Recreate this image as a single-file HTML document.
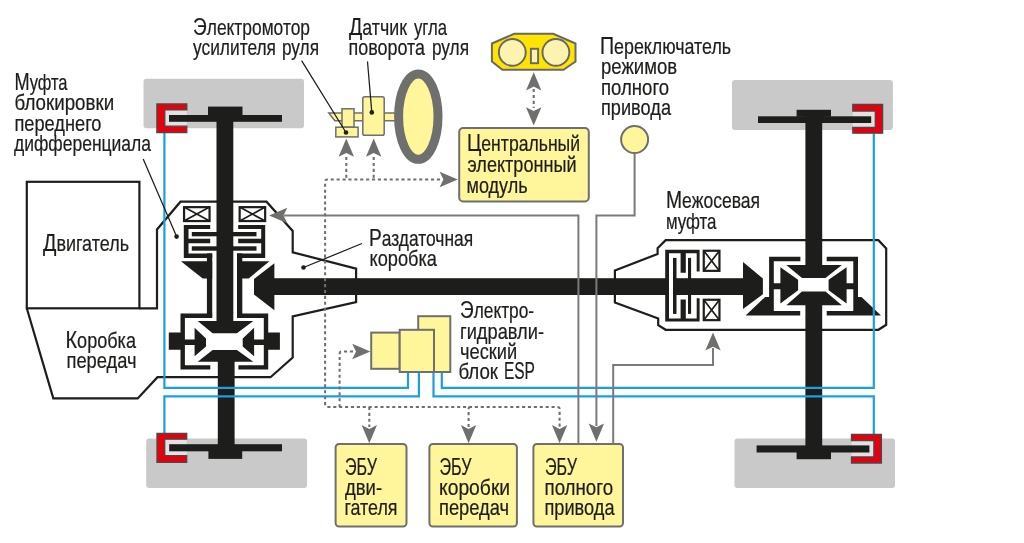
<!DOCTYPE html>
<html lang="ru">
<head>
<meta charset="utf-8">
<title>Схема полного привода</title>
<style>
html,body{margin:0;padding:0;background:#fff;}
body{width:1024px;height:543px;overflow:hidden;font-family:"Liberation Sans",sans-serif;}
svg{display:block;will-change:transform;}
text{font-family:"Liberation Sans",sans-serif;font-size:22px;fill:#1d1d1b;stroke:#1d1d1b;stroke-width:0.22;}
.k{fill:#1d1d1b;}
.w{fill:#fff;}
.ol{fill:none;stroke:#1d1d1b;stroke-width:2.2;stroke-linejoin:miter;}
.bl{fill:none;stroke:#1a9fe3;stroke-width:2.2;stroke-linejoin:miter;}
.gl{fill:none;stroke:#7a7a7a;stroke-width:2;stroke-linejoin:miter;}
.dl{fill:none;stroke:#6f6f6e;stroke-width:2.05;stroke-dasharray:3.1 2.8;stroke-linejoin:round;}
.ah{fill:#6f6f6e;}
.y{fill:#fff59a;stroke:#6f6f6e;stroke-width:2;}
.ll{fill:none;stroke:#1d1d1b;stroke-width:1.25;}
.ys{fill:#fff59a;stroke:#6f6f6e;stroke-width:1.5;}
.wh{fill:#c9c9c9;}
.rd{fill:#e3000f;stroke:#4c4847;stroke-width:1.3;stroke-linejoin:miter;}
.cb{fill:#fff;stroke:#1d1d1b;stroke-width:2.2;}
.cx{fill:none;stroke:#1d1d1b;stroke-width:1.7;}
</style>
</head>
<body>
<svg width="1024" height="543" viewBox="0 0 1024 543">
<rect x="0" y="0" width="1024" height="543" fill="#fff"/>

<!-- WHEELS -->
<g id="wheels">
<rect class="wh" x="143.5" y="78.8" width="160.5" height="49.5" rx="3"/>
<rect class="wh" x="146.2" y="438.5" width="160.9" height="49.5" rx="3"/>
<rect class="wh" x="732" y="80.1" width="160.9" height="50" rx="3"/>
<rect class="wh" x="734.5" y="438.4" width="160.5" height="49.6" rx="3"/>
<rect fill="#e2e2e2" x="164.8" y="109.9" width="22" height="16.3"/>
<rect fill="#e2e2e2" x="164.7" y="439.2" width="22" height="16.4"/>
<rect fill="#e2e2e2" x="852.8" y="111.1" width="22.5" height="16.2"/>
<rect fill="#e2e2e2" x="851.5" y="440.7" width="22.4" height="16.2"/>
</g>


<!-- HOUSING OUTLINES -->
<g id="outlines">
<rect class="ol" x="26.8" y="181.8" width="112.6" height="126.5"/>
<path class="ol" d="M139.4 308.3 H157 V229.5 L180.5 201.7 H266.5 L292.7 231 V252.3 L356.1 268.6 V302.1 L292.7 316.5 V357.6 L270.5 377.2 H157.5 L137.7 398.4 H53.3 L26.8 308.3"/>
<path class="ol" d="M665.7 240.2 H878.4 L886.2 248.5 V324.8 L878.4 329.8 H665.7 L658.2 325.1 V318.5 L614.9 302.6 V270.4 L657.6 254 V248.2 Z"/>
</g>

<!-- placeholder sections -->
<g id="front">
<!-- front-left top wheel hub -->
<rect class="k" x="208" y="106.6" width="34.5" height="9"/>
<rect class="k" x="169" y="115" width="113" height="6.8"/>
<!-- bottom-left hub -->
<rect class="k" x="169.2" y="444.2" width="112.8" height="7.1"/>
<rect class="k" x="208.4" y="451" width="33.8" height="7.9"/>
<!-- main axle shaft upper / lower -->
<rect class="k" x="216.5" y="110" width="16.8" height="215"/>
<rect class="k" x="217.8" y="358" width="16.8" height="94"/>
<!-- coil boxes -->
<rect class="cb" x="184.05" y="207.15" width="25.5" height="13.9"/>
<path class="cx" d="M184 207.1 L209.6 221.1 M209.6 207.1 L184 221.1"/>
<rect class="cb" x="239.65" y="207.15" width="25.5" height="13.9"/>
<path class="cx" d="M239.6 207.1 L265.2 221.1 M265.2 207.1 L239.6 221.1"/>
<!-- clutch pack left -->
<path class="k" d="M183.8 225 H210.2 V229.1 H188.5 V238.8 H210.2 V243.2 H188.5 V253.4 H212.2 V258 H183.8 Z"/>
<rect class="k" x="191.8" y="232" width="26" height="4.3"/>
<rect class="k" x="191.8" y="246.3" width="26" height="4.4"/>
<!-- clutch pack right -->
<path class="k" d="M265.2 225 H238.2 V229.1 H261.2 V238.8 H238.2 V243.2 H261.2 V253.4 H237 V258 H265.2 Z"/>
<rect class="k" x="232" y="232" width="24.5" height="4.3"/>
<rect class="k" x="232" y="246.3" width="24.5" height="4.4"/>
<!-- sleeves -->
<rect class="k" x="206.9" y="253.4" width="5.3" height="64"/>
<rect class="k" x="237" y="253.4" width="5.3" height="64"/>
<!-- funnel -->
<path class="k" d="M180.9 261.3 H212.2 V278.5 H202.7 Z"/>
<path class="k" d="M237 261.3 H269.5 L248.7 278.5 H237 Z"/>
<!-- bevel gear on prop shaft + prop shaft -->
<path class="k" d="M274.4 263.3 L254 279 V294.6 L274.4 310.3 Z"/>
<rect class="k" x="274" y="278.2" width="395" height="16.8"/>
<!-- front diff housing -->
<path class="k" d="M180.5 313.6 H212.2 V318 H184.9 V365.2 H210.3 V369.6 H180.5 V349.8 H168.8 V332.4 H180.5 Z"/>
<path class="k" d="M268.2 313.6 H237 V318 H263.8 V365.2 H238.4 V369.6 H268.2 V349.8 H279.9 V332.4 H268.2 Z"/>
<!-- side gears -->
<path class="k" d="M184 339.6 H194.6 V327.8 L206 338.4 V346.6 L194.6 356.3 V344.9 H184 Z"/>
<path class="k" d="M265 339.6 H254.1 V327.8 L242.7 338.4 V346.6 L254.1 356.3 V344.9 H265 Z"/>
<!-- pinions -->
<path class="k" d="M197.7 321.1 H253.3 L236.9 333.2 H212.6 Z"/>
<path class="k" d="M212.6 350.1 H236.9 L253.3 361.8 H197.7 Z"/>
</g>
<g id="rear">
<!-- top-right hub -->
<rect class="k" x="796.6" y="109.8" width="34.4" height="7"/>
<rect class="k" x="758" y="116.3" width="113.2" height="6.7"/>
<!-- bottom-right hub -->
<rect class="k" x="756.6" y="445.4" width="112.8" height="7.1"/>
<rect class="k" x="796.6" y="452" width="34.4" height="7.2"/>
<!-- rear axle shaft -->
<rect class="k" x="805.4" y="112" width="16.8" height="158"/>
<rect class="k" x="805.4" y="300" width="16.8" height="153"/>
<!-- rear clutch outer -->
<path class="k" d="M665.2 249.7 H699.6 V271.5 H696.7 V253.2 H685.8 V272.7 H680.6 V253.2 H669 V318.4 H680.6 V299.5 H685.8 V318.4 H696.7 V298.2 H699.6 V321.6 H665.2 Z"/>
<!-- rear clutch inner plates + output shaft -->
<rect class="k" x="673" y="257.9" width="3.5" height="56"/>
<rect class="k" x="688" y="257.9" width="3.1" height="56"/>
<rect class="k" x="673" y="278.2" width="70.8" height="16.8"/>
<!-- coil boxes -->
<rect class="cb" x="703.75" y="250.75" width="15.7" height="20.1"/>
<path class="cx" d="M703.7 250.7 L719.5 270.9 M719.5 250.7 L703.7 270.9"/>
<rect class="cb" x="703.75" y="299.75" width="15.7" height="20.4"/>
<path class="cx" d="M703.7 299.7 L719.5 320.2 M719.5 299.7 L703.7 320.2"/>
<!-- pinion arrow -->
<path class="k" d="M743 262.1 L762.9 278.5 V294.3 L743 309.1 Z"/>
<!-- rear diff housing + ring gear -->
<path class="k" d="M769.1 256.8 H800.4 V261.3 H773.8 V311 H800.2 V315.4 H745.6 L765.2 296.9 H769.1 Z"/>
<path class="k" d="M858 256.8 H826.7 V261.3 H853.3 V311 H826.7 V315.4 H881 L861.5 296.9 H858 Z"/>
<!-- side gears -->
<path class="k" d="M773 283.2 H780.4 V267.3 L798.1 279.8 V290.3 L780.4 303.6 V289.2 H773 Z"/>
<path class="k" d="M854 283.2 H846.6 V267.3 L828.6 279.8 V290.3 L846.6 303.6 V289.2 H854 Z"/>
<!-- pinions -->
<path class="k" d="M786.3 264.9 H841.9 L825.5 277.9 H802 Z"/>
<path class="k" d="M802 291.5 H825.5 L841.9 305.2 H786.3 Z"/>
</g>
<!-- BLUE LINES -->
<g id="blue">
<path class="bl" d="M164.4 133 V387.9 H408 V372"/>
<path class="bl" d="M164.4 433 V396.3 H418.9 V372"/>
<path class="bl" d="M433.5 372 V396.3 H873.8 V434"/>
<path class="bl" d="M441.8 372 V387.9 H873.8 V133.6"/>
</g>
<g id="yellow">
<!-- steering column -->
<path class="ys" d="M328.8 113 H396 V120.8 H334.8 Z"/>
<rect class="ys" x="342" y="108.8" width="12" height="18.4"/>
<rect class="ys" x="335.8" y="127.2" width="22.3" height="9.7"/>
<rect class="ys" x="362.8" y="96.8" width="21.4" height="38.5" rx="1.8"/>
<ellipse cx="418.3" cy="116.6" rx="19.7" ry="42.7" fill="#fff59a" stroke="#6f6f6e" stroke-width="9"/>
<!-- top yellow controller -->
<path d="M491.9 43.5 L514.2 33.8 H553.3 L575.5 43.5 V61.5 L563.5 69.8 H502.4 L491.9 61.5 Z" fill="#ffe400" stroke="#686868" stroke-width="2"/>
<circle cx="512.3" cy="52.4" r="13.4" fill="#fdf3b0" stroke="#686868" stroke-width="1.95"/>
<circle cx="555.9" cy="52.4" r="13.4" fill="#fdf3b0" stroke="#686868" stroke-width="1.95"/>
<rect x="530.9" y="48.8" width="7.2" height="14.4" fill="#fdf3b0" stroke="#686868" stroke-width="1.95"/>
<!-- central module -->
<rect class="y" x="459.2" y="128.1" width="129.6" height="73.3" rx="4"/>
<!-- switch -->
<circle class="y" cx="634.6" cy="139.6" r="13.5"/>
<!-- ESP block -->
<rect class="y" x="418.2" y="316.2" width="32.1" height="55.8"/>
<rect class="y" x="371.2" y="332.6" width="28.5" height="36.2"/>
<rect class="y" x="399.7" y="329.8" width="34.3" height="42.2"/>
<!-- ECUs -->
<rect class="y" x="335.6" y="443.9" width="70.9" height="82.6" rx="3.5"/>
<rect class="y" x="429.4" y="443.9" width="87.5" height="82.6" rx="3.5"/>
<rect class="y" x="533.4" y="443.9" width="89.6" height="82.6" rx="3.5"/>
</g>
<g id="lines">
<!-- gray solid -->
<path class="gl" d="M578.4 443.7 V215.5 H284"/>
<path class="gl" d="M634.6 153.3 V215.5 H596.4 V426"/>
<path class="gl" d="M613.2 443.7 V365.1 H713 V348"/>
<polygon class="ah" points="269.1,215.5 287.3,207.8 283.5,215.5 287.3,223.2"/>
<polygon class="ah" points="596.4,441.7 604.1,423.5 596.4,427.3 588.7,423.5"/>
<polygon class="ah" points="713.0,332.4 720.7,350.6 713.0,346.8 705.3,350.6"/>
<!-- dotted -->
<path class="dl" d="M440 179.5 H327.1 Q325.1 179.5 325.1 181.5 V404.9 Q325.1 406.9 327.1 406.9 H557.6 Q559.6 406.9 559.6 408.9 V427"/>
<path class="dl" d="M346.3 157 V177.5 Q346.3 179.5 344.3 179.5"/>
<path class="dl" d="M373.7 157 V177.5 Q373.7 179.5 375.7 179.5"/>
<path class="dl" d="M353 351.5 H341.6 Q339.6 351.5 339.6 353.5 V406.9"/>
<path class="dl" d="M369.3 406.9 V427"/>
<path class="dl" d="M468.6 427 V408.9 Q468.6 406.9 470.6 406.9"/>
<path class="dl" d="M533.7 89 V108"/>
<polygon class="ah" points="346.3,138.6 354.0,156.8 346.3,153.0 338.6,156.8"/>
<polygon class="ah" points="373.7,138.6 381.4,156.8 373.7,153.0 366.0,156.8"/>
<polygon class="ah" points="457.8,179.5 439.6,171.8 443.4,179.5 439.6,187.2"/>
<polygon class="ah" points="370.4,351.5 352.2,343.8 356.0,351.5 352.2,359.2"/>
<polygon class="ah" points="369.3,443.3 377.0,425.1 369.3,428.9 361.6,425.1"/>
<polygon class="ah" points="468.6,443.3 476.3,425.1 468.6,428.9 460.9,425.1"/>
<polygon class="ah" points="559.6,443.3 567.3,425.1 559.6,428.9 551.9,425.1"/>
<polygon class="ah" points="533.7,72.2 541.4,90.4 533.7,86.6 526.0,90.4"/>
<polygon class="ah" points="533.7,125.4 541.4,107.2 533.7,111.0 526.0,107.2"/>
</g>
<g id="brackets">
<path class="rd" d="M156.9 104 H186.8 V109.9 H164.8 V126.2 H186.8 V132.7 H156.9 Z"/>
<path class="rd" d="M157 433.5 H186.7 V439.2 H164.7 V455.6 H186.7 V462.3 H157 Z"/>
<path class="rd" d="M882.6 104.5 H852.8 V111.1 H875.3 V127.3 H852.8 V133.2 H882.6 Z"/>
<path class="rd" d="M881.4 434.5 H851.5 V440.7 H873.9 V456.9 H851.5 V463 H881.4 Z"/>
</g>

<g id="labels">
<text x="14.5" y="89.9" textLength="53.0" lengthAdjust="spacingAndGlyphs"><tspan font-size="24.2">М</tspan>уфта</text>
<text x="14.5" y="110.4" textLength="99.6" lengthAdjust="spacingAndGlyphs">блокировки</text>
<text x="14.5" y="130.5" textLength="87.0" lengthAdjust="spacingAndGlyphs">переднего</text>
<text x="14.0" y="151.0" textLength="137.0" lengthAdjust="spacingAndGlyphs">дифференциала</text>
<text x="193.0" y="35.2" textLength="117.0" lengthAdjust="spacingAndGlyphs"><tspan font-size="24.2">Э</tspan>лектромотор</text>
<text x="193.0" y="55.3" textLength="83.0" lengthAdjust="spacingAndGlyphs">усилителя</text>
<text x="281.9" y="55.3" textLength="37.1" lengthAdjust="spacingAndGlyphs">руля</text>
<text x="349.0" y="35.2" textLength="58.0" lengthAdjust="spacingAndGlyphs"><tspan font-size="24.2">Д</tspan>атчик</text>
<text x="414.0" y="35.2" textLength="33.1" lengthAdjust="spacingAndGlyphs">угла</text>
<text x="348.5" y="55.3" textLength="76.5" lengthAdjust="spacingAndGlyphs">поворота</text>
<text x="431.9" y="55.3" textLength="37.1" lengthAdjust="spacingAndGlyphs">руля</text>
<text x="600.0" y="53.6" textLength="131.1" lengthAdjust="spacingAndGlyphs"><tspan font-size="24.2">П</tspan>ереключатель</text>
<text x="601.0" y="74.2" textLength="76.1" lengthAdjust="spacingAndGlyphs">режимов</text>
<text x="601.0" y="94.6" textLength="68.1" lengthAdjust="spacingAndGlyphs">полного</text>
<text x="601.0" y="114.9" textLength="70.0" lengthAdjust="spacingAndGlyphs">привода</text>
<text x="467.0" y="151.4" textLength="113.1" lengthAdjust="spacingAndGlyphs"><tspan font-size="24.2">Ц</tspan>ентральный</text>
<text x="467.5" y="172.1" textLength="109.0" lengthAdjust="spacingAndGlyphs">электронный</text>
<text x="466.5" y="193.0" textLength="61.1" lengthAdjust="spacingAndGlyphs">модуль</text>
<text x="43.0" y="250.9" textLength="86.0" lengthAdjust="spacingAndGlyphs"><tspan font-size="24.2">Д</tspan>вигатель</text>
<text x="369.0" y="245.9" textLength="104.1" lengthAdjust="spacingAndGlyphs"><tspan font-size="24.2">Р</tspan>аздаточная</text>
<text x="369.5" y="266.1" textLength="67.5" lengthAdjust="spacingAndGlyphs">коробка</text>
<text x="65.5" y="347.5" textLength="70.5" lengthAdjust="spacingAndGlyphs"><tspan font-size="24.2">К</tspan>оробка</text>
<text x="66.5" y="367.5" textLength="70.1" lengthAdjust="spacingAndGlyphs">передач</text>
<text x="666.0" y="208.4" textLength="94.1" lengthAdjust="spacingAndGlyphs"><tspan font-size="24.2">М</tspan>ежосевая</text>
<text x="665.9" y="229.4" textLength="50.6" lengthAdjust="spacingAndGlyphs">муфта</text>
<text x="460.0" y="317.9" textLength="74.1" lengthAdjust="spacingAndGlyphs"><tspan font-size="24.2">Э</tspan>лектро-</text>
<text x="460.0" y="338.5" textLength="84.0" lengthAdjust="spacingAndGlyphs">гидравли-</text>
<text x="460.0" y="358.5" textLength="57.1" lengthAdjust="spacingAndGlyphs">ческий</text>
<text x="458.4" y="378.8" textLength="39.6" lengthAdjust="spacingAndGlyphs">блок</text>
<text x="503.9" y="378.8" textLength="31.1" lengthAdjust="spacingAndGlyphs"><tspan font-size="24.2">ESP</tspan></text>
<text x="345.0" y="474.8" textLength="32.0" lengthAdjust="spacingAndGlyphs"><tspan font-size="24.2">ЭБУ</tspan></text>
<text x="345.0" y="494.9" textLength="37.1" lengthAdjust="spacingAndGlyphs">дви-</text>
<text x="344.4" y="515.3" textLength="53.1" lengthAdjust="spacingAndGlyphs">гателя</text>
<text x="439.5" y="474.8" textLength="32.0" lengthAdjust="spacingAndGlyphs"><tspan font-size="24.2">ЭБУ</tspan></text>
<text x="439.0" y="494.9" textLength="71.1" lengthAdjust="spacingAndGlyphs">коробки</text>
<text x="439.0" y="515.3" textLength="70.1" lengthAdjust="spacingAndGlyphs">передач</text>
<text x="545.0" y="474.8" textLength="32.0" lengthAdjust="spacingAndGlyphs"><tspan font-size="24.2">ЭБУ</tspan></text>
<text x="544.5" y="494.9" textLength="68.6" lengthAdjust="spacingAndGlyphs">полного</text>
<text x="544.5" y="515.3" textLength="70.0" lengthAdjust="spacingAndGlyphs">привода</text>
<path class="ll" d="M143.2 158.9 L176.6 236.6 M301.6 60.7 L346 132.5 M367.5 61.5 L371.8 112.4 M361.9 243.5 L303.5 267.5"/>
<circle class="k" cx="176.6" cy="236.6" r="2.3"/><circle class="k" cx="346" cy="132.5" r="2.3"/><circle class="k" cx="371.8" cy="112.4" r="2.3"/><circle class="k" cx="303.5" cy="267.5" r="2.3"/>
</g>
</svg>
</body>
</html>
